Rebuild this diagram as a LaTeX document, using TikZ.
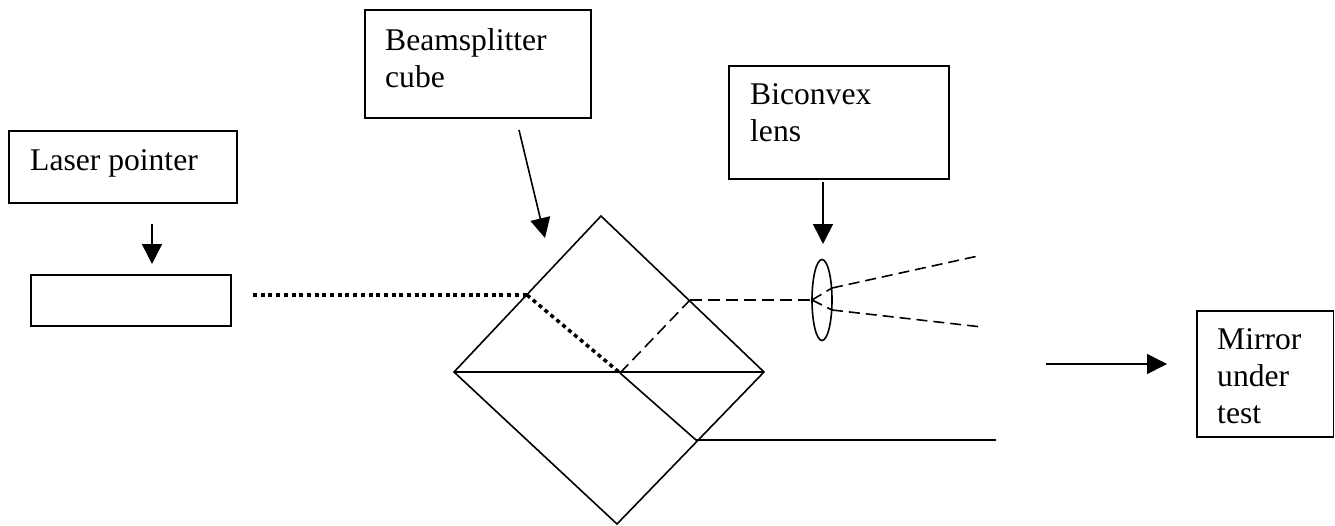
\documentclass[tikz,border=0pt]{standalone}
\usepackage{fontspec}
\setmainfont{Liberation Serif}
\usetikzlibrary{arrows.meta,shapes.geometric}
\tikzset{
  x=1pt,y=-1pt,
  ln/.style={line width=1.6pt,black},
  boxn/.style={draw,line width=1.6pt,anchor=north west,inner sep=0pt,outer sep=0pt},
  lbl/.style={anchor=north west,inner sep=0pt,align=left,font=\fontsize{31.6}{37}\selectfont},
  arr/.style={ln,-{Triangle[length=20pt,width=20pt]}},
  dot/.style={line width=3.5pt,dash pattern=on 4pt off 3.7pt},
  dsh/.style={line width=1.6pt,dash pattern=on 12pt off 6pt},
  dsn/.style={line width=1.6pt,dash pattern=on 11pt off 6pt},
}
\begin{document}
\begin{tikzpicture}
\useasboundingbox (0,0) rectangle (1335,525);
\node[boxn,minimum width=228pt,minimum height=72pt] (lbox) at (9,131) {};
\node[boxn,minimum width=200pt,minimum height=51pt] (laser) at (31,275) {};
\node[boxn,minimum width=226pt,minimum height=108pt] (bbox) at (365,10) {};
\node[boxn,minimum width=220pt,minimum height=113pt] (cbox) at (729,66) {};
\node[boxn,minimum width=136.5pt,minimum height=126pt] (mbox) at (1197,311) {};
\node[lbl] (ltext) at (30,149) {Laser pointer};
\node[lbl] (btext) at (385,28) {Beamsplitter\\cube};
\node[lbl] (ctext) at (750,83) {Biconvex\\lens};
\node[lbl] (mtext) at (1217,328) {Mirror\\under\\test};
\coordinate (a1) at (152,224); \coordinate (a2) at (152,264);
\coordinate (b1) at (519,130); \coordinate (b2) at (545,238);
\coordinate (c1) at (823,182); \coordinate (c2) at (823,244);
\coordinate (m1) at (1046,364); \coordinate (m2) at (1167,364);
\draw[arr] (a1) -- (a2);
\draw[arr] (b1) -- (b2);
\draw[arr] (c1) -- (c2);
\draw[arr] (m1) -- (m2);
\coordinate (T) at (601,216); \coordinate (L) at (454,372);
\coordinate (R) at (764,372); \coordinate (B) at (617,524);
\coordinate (P) at (527,295); \coordinate (C) at (620,373);
\coordinate (Q) at (690,300); \coordinate (S) at (696,440);
\coordinate (E) at (996,440); \coordinate (F) at (812,300);
\coordinate (G1) at (832,288); \coordinate (G2) at (978,256);
\coordinate (H1) at (832,310); \coordinate (H2) at (982,327);
\coordinate (Z) at (253,295);
\draw[ln,line join=miter] (T) -- (L) -- (B) -- (R) -- cycle;
\draw[ln] (L) -- (R);
\draw[ln] (C) -- (S) -- (E);
\draw[dot] (Z) -- (P);
\draw[dot] (P) -- (C);
\draw[dsh] (C) -- (Q);
\draw[dsh] (Q) -- (F);
\draw[dsn] (F) -- (G1);
\draw[dsn] (G1) -- (G2);
\draw[dsn] (F) -- (H1);
\draw[dsn] (H1) -- (H2);
\node[draw,ellipse,line width=1.6pt,minimum width=20pt,minimum height=81pt,inner sep=0pt] (lens) at (822,300) {};
\end{tikzpicture}
\end{document}
